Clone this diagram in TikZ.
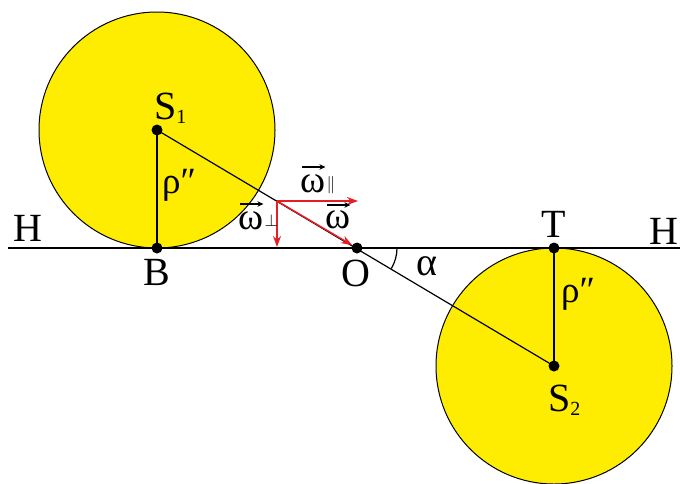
\documentclass[tikz,border=0pt]{standalone}
\usepackage{amsmath}
\usepackage{fontspec}
\setmainfont{Liberation Serif}
\usetikzlibrary{arrows.meta}
\begin{document}
\begin{tikzpicture}[x=1pt,y=-1pt,
  seg/.style={line width=1.2pt},
  dot/.style={circle,fill=black,inner sep=0pt,minimum size=11pt},
  lbl/.style={font=\fontsize{40}{40}\selectfont,inner sep=0pt},
  rlbl/.style={font=\fontsize{37}{37}\selectfont,inner sep=0pt},
  wlbl/.style={font=\fontsize{38}{38}\selectfont,inner sep=0pt,anchor=base west},
  wsub/.style={font=\fontsize{16}{16}\selectfont,inner sep=0pt,anchor=base west},
  ovec/.style={line width=1.3pt,-{Stealth[length=6pt,width=5.5pt]}},
  vec/.style={draw={rgb,255:red,230;green,30;blue,36},line width=1.5pt,-{Stealth[length=11pt,width=8pt]}}]
\useasboundingbox (0,0) rectangle (680,483);
\fill[yellow!95!orange,draw=black,line width=1pt] (157,130) circle (118);
\fill[yellow!95!orange,draw=black,line width=1pt] (554,366) circle (118);
\coordinate (L) at (8,248);
\coordinate (R) at (680,248);
\draw[seg] (L) -- (R);
\node[dot] (S1) at (157,130) {};
\node[dot] (B) at (157,248) {};
\node[dot] (O) at (357,248) {};
\node[dot] (T) at (554,248) {};
\node[dot] (S2) at (554,366) {};
\draw[seg] (S1.center) -- (B.center);
\draw[seg] (T.center) -- (S2.center);
\draw[seg] (S1.center) -- (S2.center);
\coordinate (P) at (277,201);
\coordinate (Ph) at (358,201);
\coordinate (Pv) at (277,247);
\draw[vec] (P) -- (Ph);
\draw[vec] (P) -- (Pv);
\draw[vec] (P) -- (O);
\draw[seg] ([shift={(0:40)}]O.center) arc[start angle=0,end angle=31,radius=40];
\node[lbl,anchor=base west] (lS1) at (154,119) {S\textsubscript{\fontsize{20}{20}\selectfont 1}};
\node[lbl,anchor=base west] (lS2) at (548,411) {S\textsubscript{\fontsize{20}{20}\selectfont 2}};
\node[lbl,anchor=base] (lB) at (157,285) {B};
\node[lbl,anchor=base] (lO) at (356,286) {O};
\node[lbl,anchor=base] (lT) at (554,237) {T};
\node[lbl,anchor=base] (lH1) at (28,241) {H};
\node[lbl,anchor=base] (lH2) at (664,244) {H};
\node[lbl,anchor=base] (la) at (427,275) {α};
\node[rlbl,anchor=base west] (lr1) at (162,193) {ρ″};
\node[rlbl,anchor=base west] (lr2) at (561,302) {ρ″};
% omega labels
\node[wlbl] (w1) at (300,192) {ω};
\node[wsub] (w1s) at ([xshift=1pt,yshift=3pt]w1.base east) {$\parallel$};
\node[wlbl] (w2) at (325,228) {ω};
\node[wlbl] (w3) at (238,229) {ω};
\node[wsub] (w3s) at ([xshift=1pt,yshift=3pt]w3.base east) {$\perp$};
\draw[ovec] ([xshift=2pt,yshift=7pt]w1.north west) -- ([xshift=0pt,yshift=7pt]w1.north east);
\draw[ovec] ([xshift=2pt,yshift=5pt]w2.north west) -- ([xshift=0pt,yshift=5pt]w2.north east);
\draw[ovec] ([xshift=2pt,yshift=7pt]w3.north west) -- ([xshift=0pt,yshift=7pt]w3.north east);
\end{tikzpicture}
\end{document}
